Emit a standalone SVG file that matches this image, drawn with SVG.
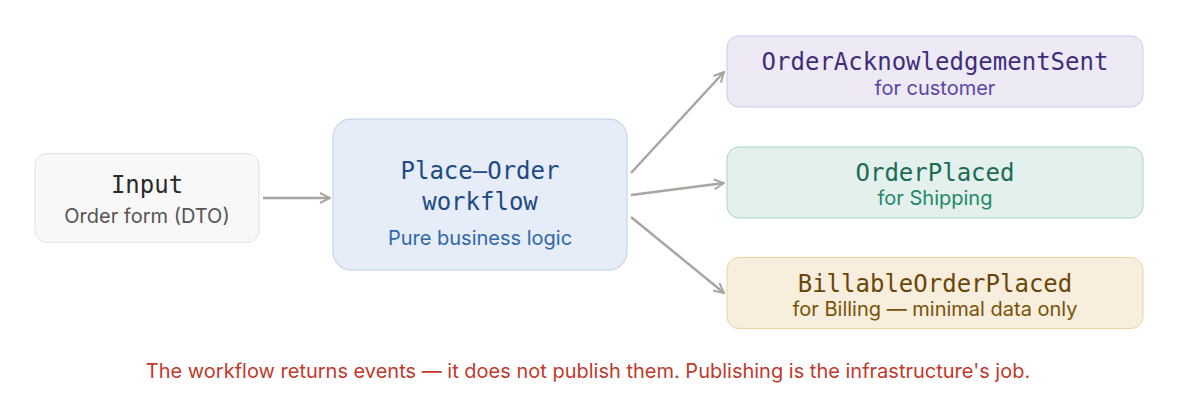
<svg xmlns="http://www.w3.org/2000/svg" width="1178" height="416" viewBox="0 0 1178 416">
<style>
.m{font-family:"DejaVu Sans Mono","Liberation Mono",monospace;font-size:24px;text-anchor:middle}
.s{font-family:"Inter","Noto Sans",sans-serif;font-size:20px;text-anchor:middle}
.c{stroke:#a8a6a0;stroke-width:2.5;fill:none;marker-end:url(#a)}
</style>
<defs><marker id="a" viewBox="0 0 12 12" refX="11" refY="6" markerWidth="12" markerHeight="12" markerUnits="userSpaceOnUse" orient="auto"><path d="M1 1L11 6L1 11" fill="none" stroke="#a8a6a0" stroke-width="2"/></marker></defs>
<rect width="1178" height="416" fill="#fff"/>
<g id="input"><rect x="35" y="153.5" width="224" height="89" rx="12" fill="#f8f8f8" stroke="#e2e2e2"/>
<text class="m" x="147" y="193" fill="#2a2a2a">Input</text><text class="s" x="147" y="223" fill="#555">Order form (DTO)</text></g>
<g id="workflow"><rect x="333" y="119" width="294" height="151" rx="18" fill="#e6edf8" stroke="#bccde8"/>
<text class="m" x="480" y="179" fill="#1e4a85">Place–Order</text><text class="m" x="480" y="210" fill="#1e4a85">workflow</text>
<text class="s" x="480" y="245" fill="#2f68ab">Pure business logic</text></g>
<g id="ack"><rect x="727" y="36" width="416" height="71" rx="12" fill="#edeaf6" stroke="#cfc6ec"/>
<text class="m" x="935" y="70" fill="#3e2e7a">OrderAcknowledgementSent</text><text class="s" x="935" y="95" fill="#5a45a8">for customer</text></g>
<g id="placed"><rect x="727" y="147" width="416" height="71" rx="12" fill="#e3f0ec" stroke="#a9d6c6"/>
<text class="m" x="935" y="181" fill="#1b6b55">OrderPlaced</text><text class="s" x="935" y="205" fill="#23876a">for Shipping</text></g>
<g id="billable"><rect x="727" y="257.5" width="416" height="71" rx="12" fill="#f8eedd" stroke="#ecd3a0"/>
<text class="m" x="935" y="292" fill="#6b4608">BillableOrderPlaced</text><text class="s" x="935" y="316" fill="#7a5208">for Billing — minimal data only</text></g>
<g id="connectors">
<path class="c" d="M263 198H330"/>
<path class="c" d="M631 173L724 72"/>
<path class="c" d="M631 195L724 183"/>
<path class="c" d="M631 217L724 293"/>
</g>
<text class="s" x="588" y="378" fill="#c0392b">The workflow returns events — it does not publish them. Publishing is the infrastructure's job.</text>
</svg>
